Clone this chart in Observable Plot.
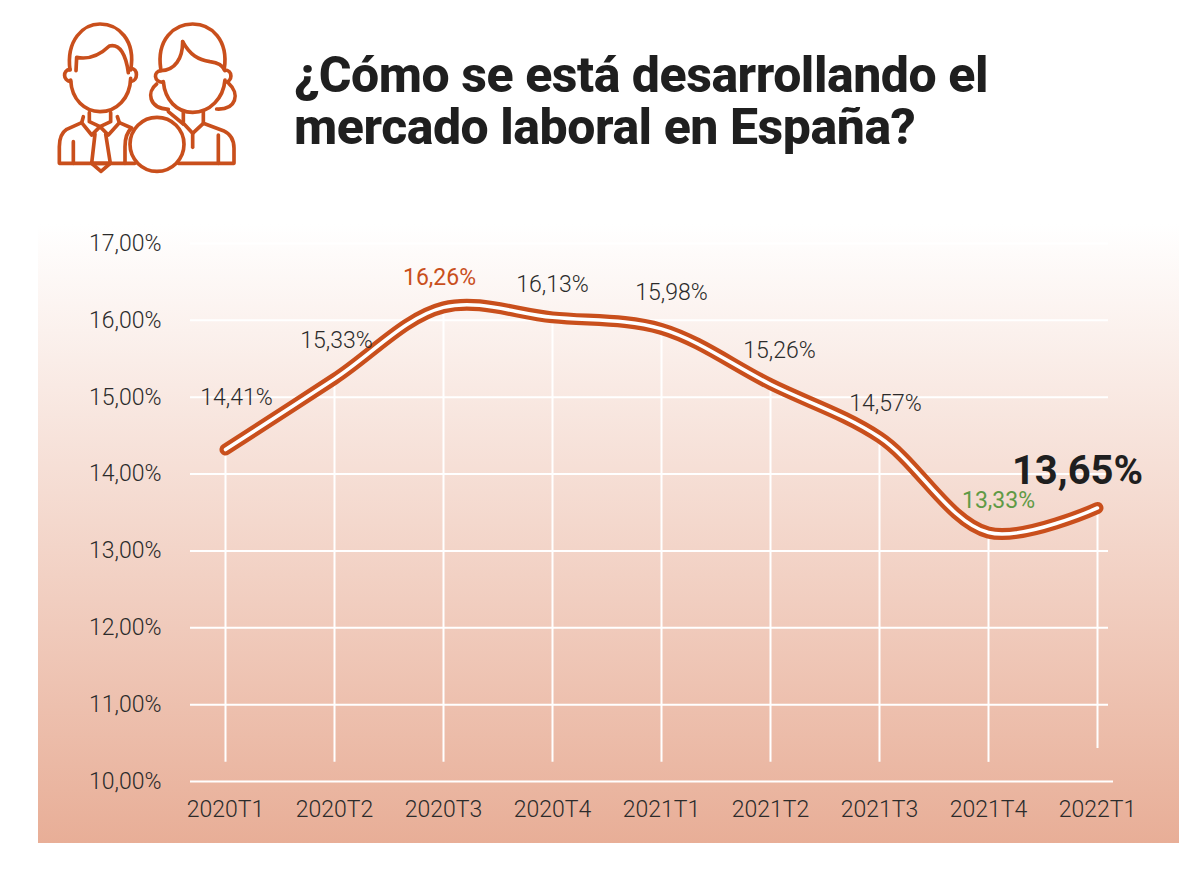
<!DOCTYPE html>
<html lang="es">
<head>
<meta charset="utf-8">
<script src="https://cdn.jsdelivr.net/npm/d3@7"></script>
<script src="https://cdn.jsdelivr.net/npm/@observablehq/plot@0.6"></script>
<style>
html,body{margin:0;padding:0;background:#fff;width:1200px;height:871px;overflow:hidden}
#page{position:relative;width:1200px;height:871px}
#panel{position:absolute;left:38px;top:205px;width:1141px;height:638px;background:linear-gradient(to bottom,#ffffff 0%,#ffffff 3%,#e8ae97 100%)}
#icon{position:absolute;left:40px;top:0;width:260px;height:190px}
h1{position:absolute;left:294px;top:49px;margin:0;font:800 50px/52px Roboto,sans-serif;color:#1f1f1f;letter-spacing:-0.45px}
#chart{position:absolute;left:0;top:205px}
#chart svg{background:transparent;overflow:visible}
</style>
</head>
<body>
<div id="page">
  <div id="panel"></div>
  <svg id="icon" viewBox="0 0 780 570" fill="none" stroke="#c94f1c" stroke-width="11" stroke-linejoin="round" stroke-linecap="round">
    <path d="M90 210C78 120 130 72 180 72C235 72 288 120 272 210"/>
    <path d="M108 212L110 172C150 180 180 165 208 138C240 130 258 165 265 218"/>
    <path d="M92 240C95 300 135 335 180 335C230 335 270 295 272 235"/>
    <path d="M90 208C68 210 68 242 92 245M272 205C295 205 295 242 272 245"/>
    <path d="M148 338V365L180 380L212 365V338"/>
    <path d="M130 350L125 368L155 405L180 380L205 405L238 368L232 350"/>
    <path d="M125 368L80 388C65 398 58 415 58 440V490H285"/>
    <path d="M238 368L275 384C262 395 255 415 255 440V490"/>
    <path d="M100 425V490"/>
    <path d="M165 402L155 490L183 514L211 490L197 402"/>
    <path d="M155 490H211"/>
    <circle cx="351" cy="433" r="81"/>
    <path d="M362 205C350 120 400 72 458 72C515 72 565 120 553 205"/>
    <path d="M428 125C450 165 475 180 510 185C535 188 548 195 555 212"/>
    <path d="M428 125C428 175 405 212 362 212"/>
    <path d="M370 245C375 300 410 337 458 337C510 337 550 295 555 240"/>
    <path d="M362 212C340 215 340 245 370 247M553 210C580 210 578 245 555 247"/>
    <path d="M350 252C320 275 325 325 385 328M566 250C600 280 590 330 530 327"/>
    <path d="M430 337V370L458 400L490 370V337"/>
    <path d="M458 400V442"/>
    <path d="M490 370L550 392C572 402 582 420 582 445V490H415"/>
    <path d="M535 405V490"/>
    <path d="M385 335L430 372"/>
  </svg>
  <h1>¿Cómo se está desarrollando el<br>mercado laboral en España?</h1>
  <div id="chart"></div>
</div>
<script>
const quarters = ["2020T1","2020T2","2020T3","2020T4","2021T1","2021T2","2021T3","2021T4","2022T1"];
const rates = [14.41,15.33,16.26,16.13,15.98,15.26,14.57,13.33,13.65];
const yTicks = [10,11,12,13,14,15,16,17];
const stemBottoms = [10.34,10.34,10.34,10.34,10.34,10.34,10.34,10.34,10.52];

const fmt = d => d.toFixed(2).replace(".", ",") + "%";
const rows = quarters.map((q,i) => ({q, v: rates[i], low: stemBottoms[i]}));

const ORANGE = "#c94f1c", DARK = "#2b2b2b", GREEN = "#5f9a46";
const labelStyle = {
  "2020T1":[11,-45,DARK,23,300], "2020T2":[2,-31,DARK,23,300], "2020T3":[-4,-23,ORANGE,23,400],
  "2020T4":[0,-26,DARK,23,300], "2021T1":[10,-29,DARK,23,300], "2021T2":[9,-27,DARK,23,300],
  "2021T3":[6,-27,DARK,23,300], "2021T4":[10,-25,GREEN,23,400], "2022T1":[-20,-30,"#1f1f1f",40,700]
};
const font = "Roboto, sans-serif";
const lineShift = 7;

const chart = Plot.plot({
  width: 1200, height: 640,
  marginLeft: 190, marginRight: 87, marginTop: 38, marginBottom: 64,
  style: {background:"transparent", fontFamily: font},
  x: {type:"point", domain: quarters, range:[223,1099], padding:0, label:null},
  y: {domain:[10,17], label:null},
  marks: [
    Plot.ruleY(yTicks.filter(t => t > 10), {y:d=>d, stroke:"#fff", strokeWidth:2, insetRight:5}),
    Plot.ruleY([10], {stroke:"#fff", strokeWidth:2}),
    Plot.ruleX(rows, {x:"q", y1:"low", y2:"v", stroke:"#fff", strokeWidth:2, dy:lineShift}),
    Plot.axisY({ticks:yTicks, tickFormat:fmt, tickSize:0, tickPadding:29, fontSize:23, fontWeight:300, fill:DARK, label:null, letterSpacing:"-1px"}),
    Plot.axisX({tickSize:0, tickPadding:19, fontSize:23, fontWeight:300, fill:DARK, label:null, letterSpacing:"0px"}),
    Plot.line(rows, {x:"q", y:"v", curve:"catmull-rom", stroke:ORANGE, strokeWidth:12, strokeLinecap:"round", strokeLinejoin:"round", dy:lineShift}),
    Plot.line(rows, {x:"q", y:"v", curve:"catmull-rom", stroke:"#fff", strokeWidth:3.5, strokeLinecap:"round", strokeLinejoin:"round", dy:lineShift}),
    ...rows.map(r => {
      const [dx,dy,fill,fontSize,fontWeight] = labelStyle[r.q];
      return Plot.text([r], {x:"q", y:"v", text:d=>fmt(d.v), dx, dy, fill, fontSize, fontWeight, letterSpacing:"-1px"});
    })
  ]
});
document.getElementById("chart").append(chart);
</script>
</body>
</html>
